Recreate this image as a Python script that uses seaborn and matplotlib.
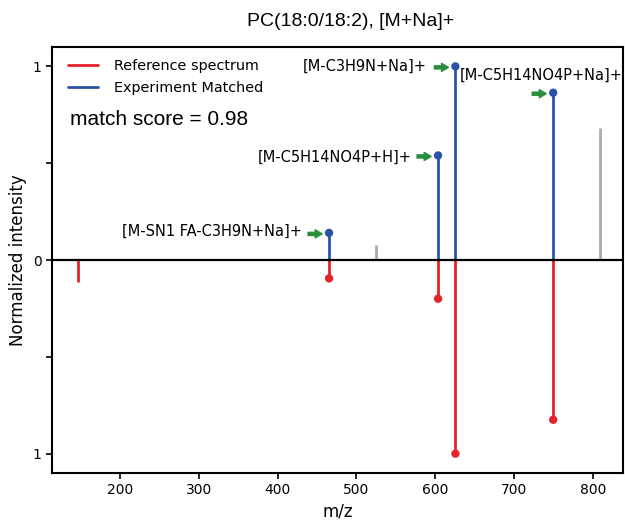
import matplotlib
matplotlib.use("Agg")
import matplotlib.pyplot as plt
import matplotlib.transforms as mtransforms
import seaborn as sns
import numpy as np
import pandas as pd

# ---- data ----
title = "PC(18:0/18:2), [M+Na]+"
score_text = "match score = 0.98"

ref_mz = [147.1, 465.3, 603.5, 625.5, 749.5]
ref_int = [0.115, 0.095, 0.20, 1.00, 0.825]
ref_matched = [False, True, True, True, True]

exp_mz = [465.3, 525.3, 603.5, 625.5, 749.5, 808.6]
exp_int = [0.14, 0.075, 0.54, 1.00, 0.864, 0.68]
exp_matched = [True, False, True, True, True, False]

ann_labels = ["[M-SN1 FA-C3H9N+Na]+", "[M-C5H14NO4P+H]+",
              "[M-C3H9N+Na]+", "[M-C5H14NO4P+Na]+"]
ann_mz = [465.3, 603.5, 625.5, 749.5]
ann_int = [0.14, 0.54, 1.00, 0.864]

ytick_vals = [-1, -0.5, 0, 0.5, 1]
ytick_labels = ["1", "", "0", "", "1"]

# ---- style ----
sns.set_style("ticks")
plt.rcParams["font.family"] = ["DejaVu Sans"]
plt.rcParams["text.color"] = "black"
plt.rcParams["axes.labelcolor"] = "black"
plt.rcParams["xtick.color"] = "black"
plt.rcParams["ytick.color"] = "black"
RED = "#e3242b"
BLUE = "#2b53a3"
GREY = "#aaaaaa"
GREEN = "#2a8f3c"

fig = plt.figure(figsize=(6.25, 5.21), dpi=100)
ax = fig.add_axes([52 / 625, 1 - 473 / 521, 571 / 625, 426 / 521])

ref = pd.DataFrame({"mz": ref_mz, "int": ref_int, "matched": ref_matched})
exp = pd.DataFrame({"mz": exp_mz, "int": exp_int, "matched": exp_matched})

# experiment (up)
em = exp[exp.matched]
eu = exp[~exp.matched]
ax.vlines(eu.mz, 0, eu.int, color=GREY, lw=2, zorder=2)
ax.vlines(em.mz, 0, em.int, color=BLUE, lw=2, zorder=3)
sns.scatterplot(x=em.mz, y=em.int, color=BLUE, s=36, edgecolor="none", ax=ax,
                zorder=4, legend=False)
# reference (down)
rm = ref[ref.matched]
ax.vlines(ref.mz, 0, -ref.int, color=RED, lw=2, zorder=3)
sns.scatterplot(x=rm.mz, y=-rm.int, color=RED, s=36, edgecolor="none", ax=ax,
                zorder=4, legend=False)

ax.axhline(0, color="black", lw=1.6, zorder=5)

# legend
ax.plot([], [], color=RED, lw=2, label="Reference spectrum")
ax.plot([], [], color=BLUE, lw=2, label="Experiment Matched")
ax.legend(loc="upper left", bbox_to_anchor=(0.018, 0.985), borderaxespad=0,
          frameon=False, fontsize=10.4, handlelength=2.1,
          handletextpad=1.05, labelspacing=0.55)

ax.text(0.031, 0.829, score_text, transform=ax.transAxes, fontsize=15,
        va="center", ha="left", family=["Liberation Sans", "DejaVu Sans"])

ax.set_xlim(114, 838)
ax.set_ylim(-1.1, 1.1)

# annotations (text + short green arrow left of each matched peak)
ann_ha = ["right", "right", "right", "left"]
ann_txt_off = [(-27, 2), (-26, -2), (-29, 0), (-93, 17)]
arrow_style = "simple,head_length=0.55,head_width=0.65,tail_width=0.25"
for lab, mz, it, ha, toff in zip(ann_labels, ann_mz, ann_int, ann_ha, ann_txt_off):
    head = mtransforms.offset_copy(ax.transData, fig=fig, x=-7, y=-1, units="dots")
    ax.annotate("", xy=(mz, it), xycoords=head,
                xytext=(-14, 0), textcoords="offset pixels",
                arrowprops=dict(arrowstyle=arrow_style, color=GREEN,
                                shrinkA=0, shrinkB=0, mutation_scale=9),
                annotation_clip=False)
    ax.annotate(lab, xy=(mz, it), xycoords="data", xytext=toff,
                textcoords="offset pixels", ha=ha, va="center", fontsize=10.5,
                annotation_clip=False)

ax.set_yticks(ytick_vals)
ax.set_yticklabels(ytick_labels)
ax.tick_params(labelsize=10, width=1.2, length=4)
for s in ax.spines.values():
    s.set_linewidth(1.5)
    s.set_color("black")
ax.set_xlabel("m/z", fontsize=12)
ax.set_ylabel("Normalized intensity", fontsize=12)
fig.text(351 / 625, 1 - 21 / 521, title, ha="center", va="center", fontsize=14,
         family=["Liberation Sans", "DejaVu Sans"])

fig.savefig("out.png", dpi=100)
